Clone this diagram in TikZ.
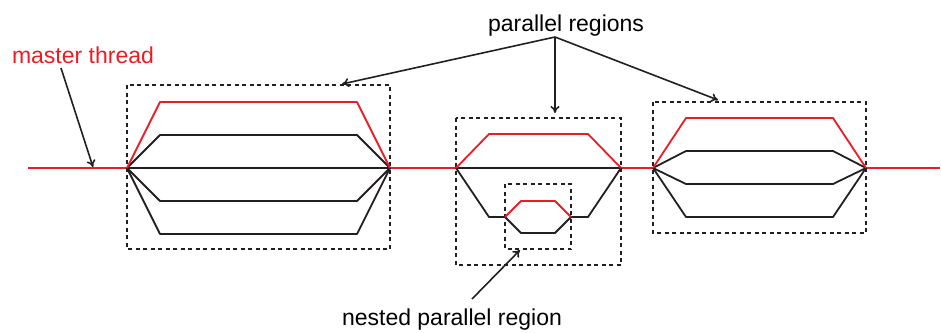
\documentclass[tikz,border=0pt]{standalone}
\usepackage{fontspec}
\setmainfont{Liberation Sans}
\usetikzlibrary{arrows.meta}
\definecolor{thread}{RGB}{237,28,36}
\definecolor{ink}{RGB}{35,31,32}
\tikzset{%
    thr/.style={line width=1.8pt, ink, line join=round},
    thrm/.style={line width=1.8pt, thread, line join=round},
    reg/.style={line width=1.5pt, ink, dash pattern=on 4pt off 3.5pt},
    pta/.style={line width=1.6pt, ink, -{To[length=7pt,width=9pt]}},
    lab/.style={font=\fontsize{23}{26}\selectfont, anchor=base, inner sep=0pt},
}

\begin{document}
\begin{tikzpicture}[x=1pt,y=-1pt]
    \useasboundingbox (0,0) rectangle (941,332);
    % fork and join points on the master thread
    \coordinate (start) at (28,168);
    \coordinate (A1) at (127,168); \coordinate (A2) at (390,168);
    \coordinate (B1) at (456,168); \coordinate (B2) at (621,168);
    \coordinate (C1) at (653,168); \coordinate (C2) at (866,168);
    \coordinate (stop) at (940,168);
    \draw [thrm](start)--(A1) (A2)--(B1) (B2)--(C1) (C2)--(stop);
    % first region
    \draw [reg](127,85) rectangle (390,249);
    \draw [thr](A1)--(A2);
    \foreach \y in {135,201,234}
        \draw [thr](A1)--(160,\y)--(357,\y)--(A2);
    \draw [thrm](A1)--(160,102)--(357,102)--(A2);
    % second region, with the nested one inside
    \draw [reg](456,118) rectangle (621,265);
    \draw [reg](505,184) rectangle (571,249);
    \coordinate (N1) at (505,217); \coordinate (N2) at (571,217);
    \draw [thr](B1)--(B2);
    \draw [thr](B1)--(489,217)--(N1) (N2)--(588,217)--(B2);
    \draw [thr](N1)--(521,233)--(555,233)--(N2);
    \draw [thrm](N1)--(521,201)--(555,201)--(N2);
    \draw [thrm](B1)--(489,134)--(588,134)--(B2);
    % third region
    \draw [reg](653,102) rectangle (866,233);
    \foreach \y in {151,184,217}
        \draw [thr](C1)--(686,\y)--(833,\y)--(C2);
    \draw [thrm](C1)--(686,118)--(833,118)--(C2);
    % labels
    \node [lab, thread] (master) at (83,63) {master thread};
    \node [lab] (par) at (566,31) {parallel regions};
    \node [lab] (nest) at (452,325) {nested parallel region};
    \coordinate (mfoot) at (61,68); \coordinate (mtip) at (93,167);
    \coordinate (pfoot) at (555,37);
    \coordinate (ptipA) at (342,84); \coordinate (ptipB) at (555,113);
    \coordinate (ptipC) at (718,100);
    \coordinate (nfoot) at (472,299); \coordinate (ntip) at (520,250);
    \draw [pta](mfoot)--(mtip);
    \draw [pta](pfoot)--(ptipA);
    \draw [pta](pfoot)--(ptipB);
    \draw [pta](pfoot)--(ptipC);
    \draw [pta](nfoot)--(ntip);
\end{tikzpicture}
\end{document}
